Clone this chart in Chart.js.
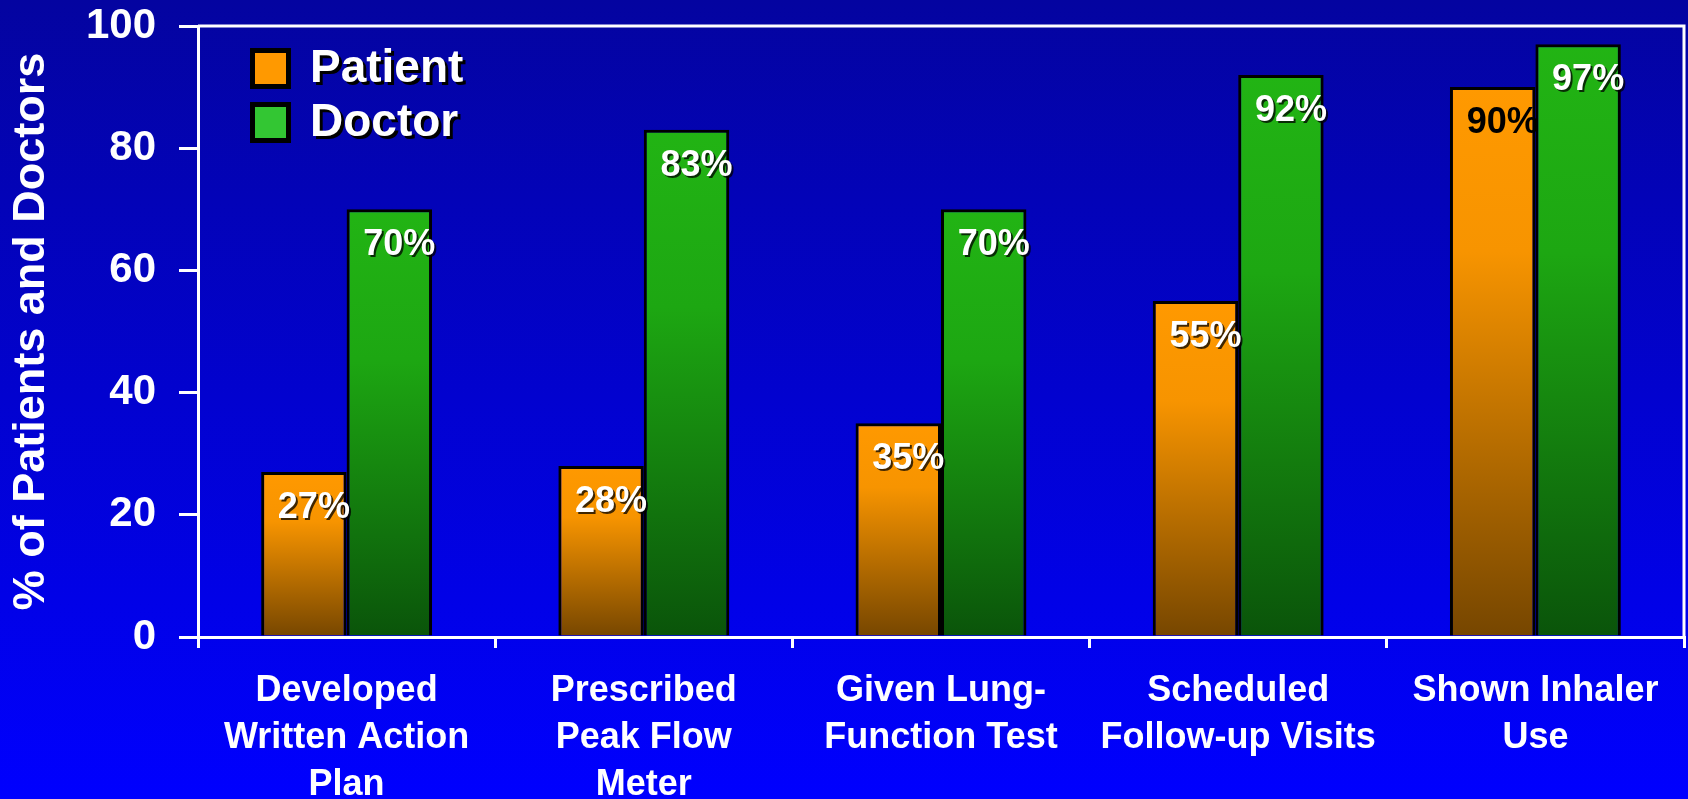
<!DOCTYPE html>
<html>
<head>
<meta charset="utf-8">
<script src="https://cdn.jsdelivr.net/npm/chart.js@4.4.1/dist/chart.umd.min.js"></script>
<style>
  html, body { margin: 0; padding: 0; background: #0000ff; overflow: hidden; }
  #wrap { width: 1688px; height: 799px; }
</style>
</head>
<body>
<div id="wrap"><canvas id="chart" width="1688" height="799"></canvas></div>
<script>
// ---- data ----
const categories = [
  ["Developed", "Written Action", "Plan"],
  ["Prescribed", "Peak Flow", "Meter"],
  ["Given Lung-", "Function Test"],
  ["Scheduled", "Follow-up Visits"],
  ["Shown Inhaler", "Use"]
];
const seriesNames = ["Patient", "Doctor"];
const patientValues = [27, 28, 35, 55, 90];
const doctorValues = [70, 83, 70, 92, 97];
const yTickValues = [0, 20, 40, 60, 80, 100];
const yTitle = "% of Patients and Doctors";

// ---- styles ----
const FONT = "'Liberation Sans', Arial, Helvetica, sans-serif";
const patientStops = [[0, "#FF9900"], [0.3, "#F79400"], [1, "#764600"]];
const doctorStops = [[0, "#22B414"], [0.35, "#1DA712"], [1, "#0A540A"]];
const legendSwatch = { Patient: "#FF9900", Doctor: "#33C633" };
const valueTextColor = {
  Patient: ["#FFFFFF", "#FFFFFF", "#FFFFFF", "#FFFFFF", "#000000"],
  Doctor: ["#FFFFFF", "#FFFFFF", "#FFFFFF", "#FFFFFF", "#FFFFFF"]
};

// vertical gradient spanning each bar from its top down to the baseline
function barFill(stops) {
  return (context) => {
    const chart = context.chart;
    if (!chart.chartArea || context.type !== 'data' || !chart.scales.y) return stops[0][1];
    const yScale = chart.scales.y;
    const top = yScale.getPixelForValue(context.raw);
    const base = yScale.getPixelForValue(0);
    const g = chart.ctx.createLinearGradient(0, top, 0, base);
    stops.forEach(([o, c]) => g.addColorStop(o, c));
    return g;
  };
}

// page background: dark navy at the top fading to pure blue at the bottom
const backgroundPlugin = {
  id: 'backgroundGradient',
  beforeDraw(chart) {
    const { ctx, width, height } = chart;
    const g = ctx.createLinearGradient(0, 0, 0, height);
    g.addColorStop(0, "#0404A0");
    g.addColorStop(1, "#0000FF");
    ctx.save();
    ctx.fillStyle = g;
    ctx.fillRect(0, 0, width, height);
    ctx.restore();
  }
};

// white frame on the top and right edges of the plot area
const framePlugin = {
  id: 'plotFrame',
  afterDraw(chart) {
    const { ctx, chartArea: a } = chart;
    ctx.save();
    ctx.strokeStyle = "#FFFFFF";
    ctx.lineWidth = 3;
    ctx.beginPath();
    ctx.moveTo(a.left, a.top);
    ctx.lineTo(a.right, a.top);
    ctx.lineTo(a.right, a.bottom);
    ctx.stroke();
    ctx.restore();
  }
};

// percentage labels just inside the top of each bar
const valueLabelPlugin = {
  id: 'valueLabels',
  afterDatasetsDraw(chart) {
    const ctx = chart.ctx;
    ctx.save();
    ctx.font = `bold 36px ${FONT}`;
    ctx.textAlign = 'center';
    ctx.textBaseline = 'middle';
    chart.data.datasets.forEach((ds, di) => {
      const meta = chart.getDatasetMeta(di);
      meta.data.forEach((bar, i) => {
        const text = ds.data[i] + '%';
        const color = valueTextColor[ds.label][i];
        const x = bar.x + 10;
        const y = bar.y + 36;
        if (color !== "#000000") {
          ctx.fillStyle = "rgba(0,0,0,0.75)";
          ctx.fillText(text, x + 2, y + 2);
        }
        ctx.fillStyle = color;
        ctx.fillText(text, x, y);
      });
    });
    ctx.restore();
  }
};

// legend in the upper-left corner of the plot area
const legendPlugin = {
  id: 'insetLegend',
  afterDraw(chart) {
    const { ctx, chartArea: a } = chart;
    const size = 41, border = 5, rowGap = 54;
    ctx.save();
    ctx.font = `bold 46px ${FONT}`;
    ctx.textAlign = 'left';
    ctx.textBaseline = 'alphabetic';
    chart.data.datasets.forEach((ds, i) => {
      const bx = a.left + 52;
      const by = a.top + 22 + i * rowGap;
      ctx.fillStyle = "#000000";
      ctx.fillRect(bx, by, size, size);
      ctx.fillStyle = legendSwatch[ds.label];
      ctx.fillRect(bx + border, by + border, size - 2 * border, size - 2 * border);
      const tx = bx + size + 19;
      const ty = by + 34;
      ctx.fillStyle = "#000000";
      ctx.fillText(ds.label, tx + 3, ty + 3);
      ctx.fillStyle = "#FFFFFF";
      ctx.fillText(ds.label, tx, ty);
    });
    ctx.restore();
  }
};

new Chart(document.getElementById('chart'), {
  type: 'bar',
  data: {
    labels: categories,
    datasets: [
      {
        label: seriesNames[0],
        data: patientValues,
        backgroundColor: barFill(patientStops),
        borderColor: "#000000",
        borderWidth: 3,
        categoryPercentage: 0.575,
        barPercentage: 1.0
      },
      {
        label: seriesNames[1],
        data: doctorValues,
        backgroundColor: barFill(doctorStops),
        borderColor: "#000000",
        borderWidth: 3,
        categoryPercentage: 0.575,
        barPercentage: 1.0
      }
    ]
  },
  options: {
    responsive: false,
    animation: false,
    devicePixelRatio: 1,
    layout: { padding: { top: 0, right: 4, left: 0, bottom: 0 } },
    plugins: {
      legend: { display: false },
      tooltip: { enabled: false }
    },
    scales: {
      x: {
        grid: {
          display: true,
          drawOnChartArea: false,
          drawTicks: true,
          tickLength: 11,
          color: "#FFFFFF",
          lineWidth: 3,
          offset: true
        },
        border: { display: true, color: "#FFFFFF", width: 3 },
        ticks: {
          color: "#FFFFFF",
          font: { family: FONT, size: 36, weight: 'bold', lineHeight: 1.3 },
          padding: 20,
          maxRotation: 0,
          minRotation: 0,
          autoSkip: false
        },
        afterFit(scale) { scale.height = 162; }
      },
      y: {
        min: 0,
        max: 100,
        afterBuildTicks(scale) { scale.ticks = yTickValues.map(v => ({ value: v })); },
        grid: {
          display: true,
          drawOnChartArea: false,
          drawTicks: true,
          tickLength: 19,
          color: "#FFFFFF",
          lineWidth: 3
        },
        border: { display: true, color: "#FFFFFF", width: 3 },
        ticks: {
          color: "#FFFFFF",
          font: { family: FONT, size: 42, weight: 'bold' },
          padding: 23
        },
        title: {
          display: true,
          text: yTitle,
          color: "#FFFFFF",
          font: { family: FONT, size: 45, weight: 'bold', lineHeight: 1.2 },
          padding: { top: 5, bottom: 0 }
        },
        afterFit(scale) {
          scale.width = 198;
          scale.paddingTop = 26;
          scale.paddingBottom = 0;
        }
      }
    }
  },
  plugins: [backgroundPlugin, valueLabelPlugin, framePlugin, legendPlugin]
});
</script>
</body>
</html>
